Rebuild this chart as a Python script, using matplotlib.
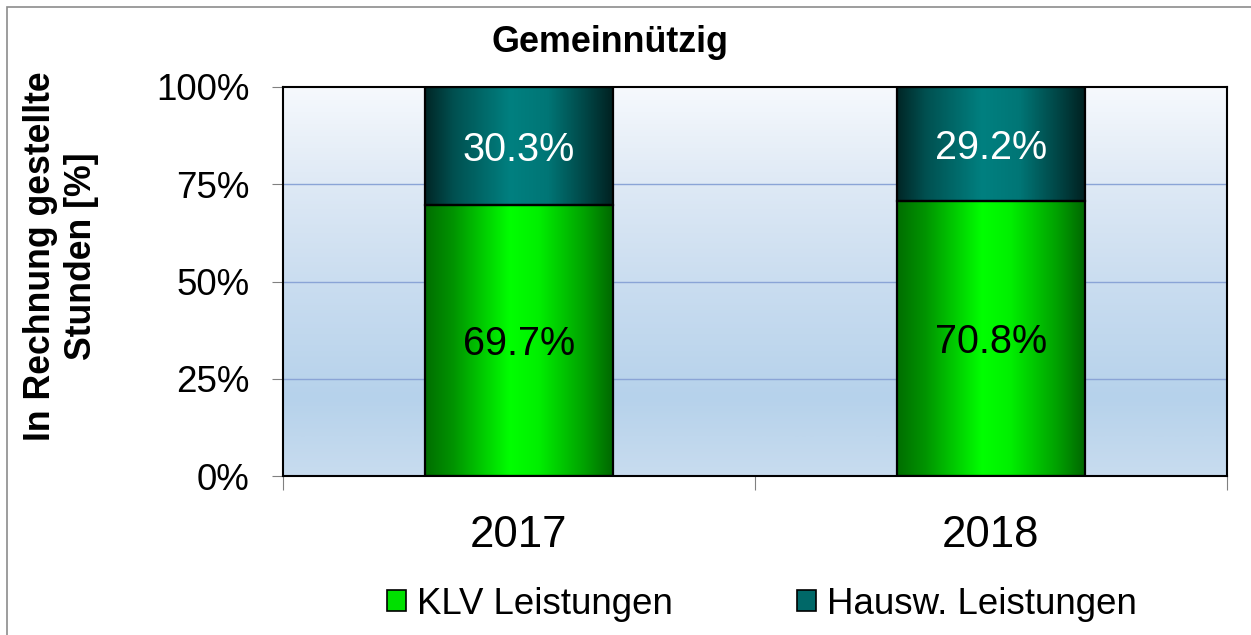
import numpy as np
import matplotlib
matplotlib.use("Agg")
import matplotlib.pyplot as plt
from matplotlib.patches import Rectangle, Patch
from matplotlib.colors import LinearSegmentedColormap
from matplotlib.transforms import offset_copy

plt.rcParams['font.family'] = ['Liberation Sans', 'DejaVu Sans']

categories = ["2017", "2018"]
klv = [69.7, 70.8]
hausw = [30.3, 29.2]
series_names = ["KLV Leistungen", "Hausw. Leistungen"]
yticks = [0, 25, 50, 75, 100]
ytick_labels = ["0%", "25%", "50%", "75%", "100%"]
title = "Gemeinnützig"
ylabel = "In Rechnung gestellte\nStunden [%]"

W, H = 1251, 635
fig = plt.figure(figsize=(W / 100, H / 100), dpi=100)
ax = fig.add_axes([283 / W, 1 - 476 / H, (1227 - 283) / W, (476 - 87) / H])

# figure frame
fig.patches.append(Rectangle((7 / W, -0.1), 1.2, 1 - 7 / H + 0.1, transform=fig.transFigure,
                             fill=False, edgecolor="#8c8c8c", linewidth=1.2))

# background gradient
bg_cmap = LinearSegmentedColormap.from_list(
    "bg", [(0.0, "#C8DCEF"), (0.2, "#B6D2EB"), (0.5, "#CADDF0"), (0.75, "#DEE9F5"), (1.0, "#F6F9FD")])
grad = np.linspace(0, 1, 256).reshape(-1, 1)
ax.imshow(grad, cmap=bg_cmap, origin="lower", extent=[0, 1, 0, 1], transform=ax.transAxes,
          aspect="auto", zorder=0)

green_cmap = LinearSegmentedColormap.from_list(
    "g", [(0.0, "#006E00"), (0.15, "#009400"), (0.45, "#00FF00"), (0.6, "#00F000"), (0.85, "#00A000"), (1.0, "#006600")])
teal_cmap = LinearSegmentedColormap.from_list(
    "t", [(0.0, "#002626"), (0.15, "#005050"), (0.45, "#008080"), (0.65, "#007676"), (0.85, "#004646"), (1.0, "#002020")])
hgrad = np.linspace(0, 1, 256).reshape(1, -1)

x = np.arange(len(categories)) + 0.5
bw = 0.4
for xi, a, b in zip(x, klv, hausw):
    ax.imshow(hgrad, cmap=green_cmap, extent=[xi - bw / 2, xi + bw / 2, 0, a], aspect="auto", zorder=2)
    ax.imshow(hgrad, cmap=teal_cmap, extent=[xi - bw / 2, xi + bw / 2, a, a + b], aspect="auto", zorder=2)
ax.bar(x, klv, bw, facecolor="none", edgecolor="black", linewidth=1.6, zorder=3)
ax.bar(x, hausw, bw, bottom=klv, facecolor="none", edgecolor="black", linewidth=1.6, zorder=3)

lbl_tr = offset_copy(ax.transData, fig=fig, x=0, y=-4, units="dots")
for xi, a, b in zip(x, klv, hausw):
    ax.text(xi, a / 2, f"{a:.1f}%", ha="center", va="center", fontsize=28.5, color="black",
            zorder=4, transform=lbl_tr)
    ax.text(xi, a + b / 2, f"{b:.1f}%", ha="center", va="center", fontsize=28.5, color="white",
            zorder=4, transform=lbl_tr)

ax.set_xlim(0, len(categories))
ax.set_ylim(0, 100)
ax.set_yticks(yticks)
ax.set_yticklabels(ytick_labels, fontsize=26.5)
ax.tick_params(axis="y", direction="out", length=8, color="#808080", pad=16)
ax.set_xticks(np.arange(len(categories) + 1))
ax.set_xticklabels([])
ax.tick_params(axis="x", which="major", direction="out", length=10, color="#808080")
ax.set_xticks(x, minor=True)
ax.set_xticklabels(categories, minor=True, fontsize=31.5)
ax.tick_params(axis="x", which="minor", length=0, pad=28)

for yv in yticks[1:-1]:
    ax.axhline(yv, color="#8AA4D6", linewidth=1.0, zorder=1)
for s in ax.spines.values():
    s.set_color("black")
    s.set_linewidth(1.5)
    s.set_zorder(5)

fig.text(610 / W, 1 - 42 / H, title, ha="center", va="center", fontsize=25.8, fontweight="bold")
fig.text(61 / W, 1 - 256 / H, ylabel, ha="center", va="center", rotation=90, fontsize=25.7,
         fontweight="bold", multialignment="center", linespacing=1.2)

handles = [Patch(facecolor="#00E000", edgecolor="black", linewidth=1.2),
           Patch(facecolor="#006868", edgecolor="black", linewidth=1.2)]
fig.legend(handles, series_names, loc="center", bbox_to_anchor=(762 / W, 1 - 604 / H), ncol=2,
           frameon=False, fontsize=26.4, handlelength=0.5, handleheight=0.5, handletextpad=0.3,
           columnspacing=3.4)

fig.savefig("out.png", dpi=100)
